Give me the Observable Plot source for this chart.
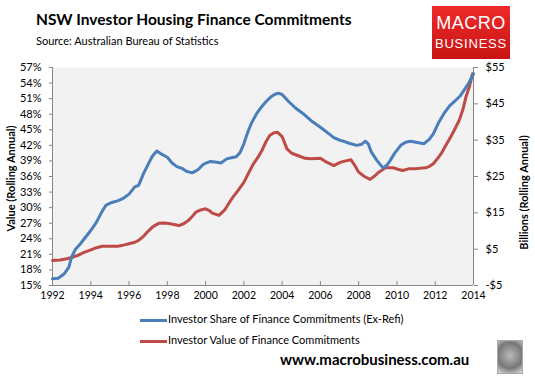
<!DOCTYPE html>
<html>
<head>
<meta charset="utf-8">
<script src="https://cdn.jsdelivr.net/npm/d3@7"></script>
<script src="https://cdn.jsdelivr.net/npm/@observablehq/plot@0.6"></script>
<style>
  html, body { margin: 0; padding: 0; background: #fff; }
  #wrap { position: relative; width: 535px; height: 377px; overflow: hidden; font-family: Lato, "Open Sans", sans-serif; color: #000; }
  #chart { position: absolute; left: 0; top: 0; }
  .abs { position: absolute; white-space: nowrap; }
  #title { left: 36px; top: 10px; font-size: 15.5px; font-weight: bold; }
  #sub { left: 36px; top: 34px; font-size: 11px; }
  #logo { left: 432px; top: 6px; width: 78px; height: 53px; background: linear-gradient(#ee2a2a, #c81414); color: #fff; text-align: center; }
  #logo .m { position: absolute; left: 0; right: 0; top: 7px; font-size: 18px; letter-spacing: 0.5px; font-family: "Liberation Sans", Arial, sans-serif; }
  #logo .b { position: absolute; left: 0; right: 0; top: 30px; font-size: 13px; letter-spacing: 0.8px; font-family: "Liberation Sans", Arial, sans-serif; }
  .ylab { font-size: 11px; font-weight: bold; transform-origin: center center; }
  .leg { font-size: 11px; }
  .sw { position: absolute; width: 27px; height: 3px; }
  #url { left: 280px; top: 350px; font-size: 15px; font-weight: bold; }
  #wolf { left: 497px; top: 340px; width: 24px; height: 32px; border: 1px solid #aaa; background: radial-gradient(circle at 50% 45%, #bbb, #777 60%, #ddd); }
</style>
</head>
<body>
<div id="wrap">
  <div id="chart"></div>
  <div class="abs" id="title">NSW Investor Housing Finance Commitments</div>
  <div class="abs" id="sub">Source: Australian Bureau of Statistics</div>
  <div class="abs" id="logo"><div class="m">MACRO</div><div class="b">BUSINESS</div></div>
  <div class="abs ylab" id="ylabL">Value (Rolling Annual)</div>
  <div class="abs ylab" id="ylabR">Billions (Rolling Annual)</div>
  <div class="sw" style="left:140px; top:319px; background:#4a7ebb"></div>
  <div class="abs leg" style="left:168px; top:312px">Investor Share of Finance Commitments (Ex-Refi)</div>
  <div class="sw" style="left:140px; top:340px; background:#be4b48"></div>
  <div class="abs leg" style="left:168px; top:333px">Investor Value of Finance Commitments</div>
  <div class="abs" id="url">www.macrobusiness.com.au</div>
  <div class="abs" id="wolf"></div>
</div>
<script>
// Investor share of finance commitments (%), by decimal year
const shareYears = [1992.0,1992.3,1992.6,1992.85,1993.0,1993.2,1993.45,1993.7,1994.0,1994.3,1994.55,1994.8,1995.1,1995.4,1995.7,1996.0,1996.3,1996.5,1996.75,1996.95,1997.2,1997.45,1997.7,1998.0,1998.25,1998.5,1998.8,1999.0,1999.3,1999.6,1999.9,2000.25,2000.5,2000.8,2001.1,2001.35,2001.6,2001.8,2002.0,2002.2,2002.4,2002.65,2002.9,2003.15,2003.4,2003.6,2003.8,2004.0,2004.35,2004.7,2005.1,2005.5,2006.0,2006.35,2006.7,2007.0,2007.2,2007.5,2007.9,2008.15,2008.35,2008.5,2008.65,2008.95,2009.15,2009.3,2009.5,2009.65,2009.9,2010.2,2010.45,2010.7,2011.0,2011.4,2011.7,2011.9,2012.15,2012.45,2012.75,2013.05,2013.3,2013.5,2013.75,2014.0];
const shareValues = [16.3,16.4,17.2,18.5,20.5,22.0,23.0,24.2,25.6,27.2,29.0,30.5,31.0,31.3,31.8,32.6,34.0,34.3,36.5,38.0,39.8,40.9,40.3,39.7,38.6,37.9,37.5,37.0,36.7,37.3,38.4,38.9,38.8,38.6,39.4,39.6,39.8,40.6,42.3,44.5,46.3,48.0,49.3,50.4,51.3,51.8,52.05,51.8,50.4,49.2,48.1,46.8,45.5,44.5,43.5,43.0,42.8,42.4,42.0,42.2,42.8,42.3,40.8,39.1,38.2,37.6,38.3,39.1,40.6,42.0,42.6,42.8,42.6,42.3,43.2,44.2,46.2,48.1,49.6,50.6,51.5,52.6,54.0,55.8];

// Investor value of finance commitments ($ billions), by decimal year
const valueYears = [1992.0,1992.4,1992.75,1993.0,1993.3,1993.65,1994.0,1994.3,1994.6,1995.0,1995.4,1995.7,1996.0,1996.3,1996.5,1996.75,1996.95,1997.25,1997.55,1997.85,1998.15,1998.6,1998.85,1999.1,1999.3,1999.5,1999.75,2000.0,2000.2,2000.35,2000.7,2001.0,2001.2,2001.4,2001.7,2002.0,2002.25,2002.5,2002.75,2002.95,2003.15,2003.35,2003.55,2003.75,2004.0,2004.25,2004.5,2004.95,2005.2,2005.5,2006.0,2006.3,2006.7,2006.95,2007.15,2007.6,2007.8,2008.0,2008.3,2008.6,2008.85,2009.05,2009.4,2009.8,2010.05,2010.3,2010.6,2010.9,2011.2,2011.5,2011.7,2011.9,2012.1,2012.3,2012.55,2012.8,2013.0,2013.25,2013.45,2013.6,2013.8,2013.95];
const valueValues = [1.9,2.0,2.35,2.7,3.25,4.1,4.8,5.4,5.8,5.8,5.8,6.1,6.5,6.9,7.4,8.5,9.7,11.2,12.1,12.2,12.0,11.5,12.0,12.9,14.0,15.2,15.8,16.1,15.6,14.9,14.3,15.8,17.5,19.1,21.2,23.4,26.0,28.5,30.4,32.2,34.5,36.3,37.0,37.2,36.0,32.6,31.4,30.5,30.0,29.9,30.05,29.0,28.0,28.7,29.1,29.6,28.0,26.2,25.0,24.2,25.2,26.2,27.4,27.4,27.0,26.65,27.1,27.1,27.3,27.4,27.8,28.5,29.8,31.2,33.5,35.8,37.8,40.4,43.5,46.8,50.0,53.3];

// Axis ticks
const xTicks = [1992,1994,1996,1998,2000,2002,2004,2006,2008,2010,2012,2014];
const pctTicks = [15,18,21,24,27,30,33,36,39,42,45,48,51,54,57];
const bnTicks = [-5,5,15,25,35,45,55];

const pctMin = 15, pctMax = 57, bnMin = -5, bnMax = 55;
const bnToPct = v => pctMin + (v - bnMin) * (pctMax - pctMin) / (bnMax - bnMin);

const share = shareYears.map((y, i) => ({year: y, v: shareValues[i]}));
const value = valueYears.map((y, i) => ({year: y, v: bnToPct(valueValues[i])}));

const bnPctTicks = bnTicks.map(bnToPct);
const fmtBn = p => {
  const i = bnPctTicks.findIndex(t => Math.abs(t - p) < 1e-6);
  const v = bnTicks[i];
  return (v < 0 ? "-$" : "$") + Math.abs(v);
};

const axisColor = "#868686";
const chart = Plot.plot({
  width: 535,
  height: 377,
  marginTop: 67,
  marginBottom: 92,
  marginLeft: 52,
  marginRight: 62,
  style: {fontFamily: "Lato, 'Open Sans', sans-serif", fontSize: "11px", color: "#000", background: "transparent"},
  x: {domain: [1992, 2014]},
  y: {domain: [pctMin, pctMax]},
  marks: [
    Plot.frame({fill: "#f2f2f2", stroke: null}),
    Plot.axisY({anchor: "left", ticks: pctTicks, tickFormat: d => d + "%", tickSize: 3, tickPadding: 8, stroke: axisColor, fill: "#000", label: null, fontSize: 11}),
    Plot.axisY({anchor: "right", ticks: bnPctTicks, tickFormat: fmtBn, tickSize: 4, tickPadding: 8, stroke: axisColor, fill: "#000", label: null, fontSize: 11}),
    Plot.axisX({ticks: xTicks, tickFormat: d => String(d), tickSize: -4, tickPadding: 10, stroke: axisColor, fill: "#000", label: null, fontSize: 10.5}),
    Plot.ruleX([1992, 2014], {stroke: axisColor, strokeWidth: 1}),
    Plot.ruleY([pctMin], {stroke: axisColor, strokeWidth: 1}),
    Plot.line(value, {x: "year", y: "v", stroke: "#be4b48", strokeWidth: 3}),
    Plot.line(share, {x: "year", y: "v", stroke: "#4a7ebb", strokeWidth: 3})
  ]
});
document.getElementById("chart").appendChild(chart);

// position rotated axis titles
function placeRot(id, cx, cy) {
  const el = document.getElementById(id);
  const w = el.offsetWidth, h = el.offsetHeight;
  el.style.left = (cx - w / 2) + "px";
  el.style.top = (cy - h / 2) + "px";
  el.style.transform = "rotate(-90deg)";
}
placeRot("ylabL", 10, 178);
placeRot("ylabR", 523, 192);
</script>
</body>
</html>
